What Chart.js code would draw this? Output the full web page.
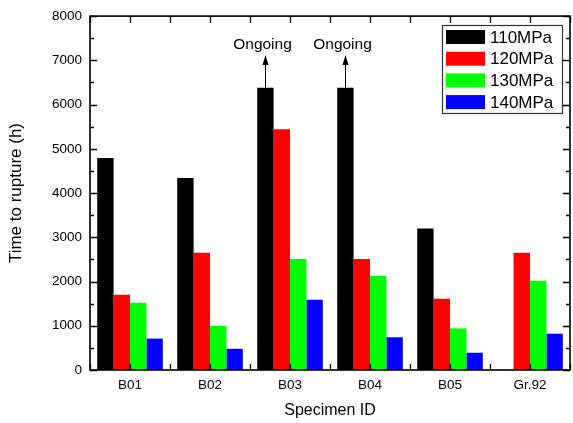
<!DOCTYPE html>
<html>
<head>
<meta charset="utf-8">
<script src="https://cdn.jsdelivr.net/npm/chart.js@4"></script>
<style>
  html, body { margin: 0; padding: 0; background: #fff; }
  #wrap { width: 573px; height: 423px; }
</style>
</head>
<body>
<div id="wrap"><canvas id="ruptureChart" width="573" height="423"></canvas></div>
<script>
// data
const specimens = ['B01', 'B02', 'B03', 'B04', 'B05', 'Gr.92'];
const stressLabels = ['110MPa', '120MPa', '130MPa', '140MPa'];
const mpa110 = [4790, 4340, 6380, 6380, 3200, null];
const mpa120 = [1700, 2650, 5440, 2510, 1610, 2650];
const mpa130 = [1520, 1000, 2510, 2130, 940, 2020];
const mpa140 = [710, 480, 1590, 740, 390, 820];
const ongoing = [false, false, true, true, false, false];
const yTicks = [0, 1000, 2000, 3000, 4000, 5000, 6000, 7000, 8000];

const barColors = ['#000000', '#ff0000', '#00ff00', '#0000ff'];
const FONT = 'Arial, "Liberation Sans", sans-serif';

// box, inward ticks, legend and "Ongoing" arrows
const framePlugin = {
    id: 'frame',
    afterDatasetsDraw(chart) {
        const ctx = chart.ctx;
        const a = chart.chartArea;
        const y = chart.scales.y;
        ctx.save();
        ctx.strokeStyle = '#000';
        ctx.lineWidth = 1.3;

        // y ticks (major + minor) on left and right
        for (let v = 0; v <= 8000; v += 500) {
            const py = Math.round(y.getPixelForValue(v)) + 0.5;
            const len = v % 1000 === 0 ? 7 : 4;
            ctx.beginPath();
            ctx.moveTo(a.left, py); ctx.lineTo(a.left + len, py);
            ctx.moveTo(a.right, py); ctx.lineTo(a.right - len, py);
            ctx.stroke();
        }
        // x ticks at centres and boundaries, top and bottom
        const step = (a.right - a.left) / specimens.length / 2;
        for (let i = 0; i <= specimens.length * 2; i++) {
            const px = Math.round(a.left + i * step) + 0.5;
            ctx.beginPath();
            ctx.moveTo(px, a.bottom); ctx.lineTo(px, a.bottom - 6);
            ctx.moveTo(px, a.top); ctx.lineTo(px, a.top + 7);
            ctx.stroke();
        }
        ctx.lineWidth = 1.6;
        ctx.strokeRect(a.left, a.top, a.right - a.left, a.bottom - a.top);

        // Ongoing arrows
        const meta = chart.getDatasetMeta(0);
        ctx.font = '15.5px ' + FONT;
        ctx.fillStyle = '#000';
        ctx.textAlign = 'center';
        ctx.textBaseline = 'alphabetic';
        ongoing.forEach((on, i) => {
            if (!on) return;
            const bar = meta.data[i];
            const bx = Math.round(bar.x) + 0.5;
            const tip = y.getPixelForValue(7120);
            ctx.lineWidth = 1;
            ctx.beginPath();
            ctx.moveTo(bx, bar.y); ctx.lineTo(bx, tip + 8);
            ctx.stroke();
            ctx.beginPath();
            ctx.moveTo(bx, tip);
            ctx.lineTo(bx - 3, tip + 10);
            ctx.lineTo(bx + 3, tip + 10);
            ctx.closePath();
            ctx.fill();
            ctx.fillText('Ongoing', bx - 3, tip - 6);
        });

        // legend box
        const lx = 442, ly = 25, lw = 120, lh = 88;
        ctx.fillStyle = '#fff';
        ctx.fillRect(lx, ly, lw, lh);
        ctx.strokeStyle = '#333';
        ctx.lineWidth = 1.2;
        ctx.strokeRect(lx + 0.5, ly + 0.5, lw, lh);
        ctx.font = '17px ' + FONT;
        ctx.textAlign = 'left';
        ctx.textBaseline = 'middle';
        chart.data.datasets.forEach((ds, k) => {
            const cy = ly + 12 + k * 21.7;
            ctx.fillStyle = ds.backgroundColor;
            ctx.fillRect(lx + 4, cy - 7, 39, 14);
            ctx.fillStyle = '#000';
            ctx.fillText(ds.label, lx + 48, cy + 1);
        });
        ctx.restore();
    }
};

const series = [mpa110, mpa120, mpa130, mpa140];

new Chart(document.getElementById('ruptureChart').getContext('2d'), {
    type: 'bar',
    data: {
        labels: specimens,
        datasets: series.map((d, k) => ({
            label: stressLabels[k],
            data: d,
            backgroundColor: barColors[k],
            borderWidth: 0,
            categoryPercentage: 0.82,
            barPercentage: 1
        }))
    },
    options: {
        responsive: false,
        animation: false,
        devicePixelRatio: 1,
        layout: { padding: { top: 14, right: 3, left: 0, bottom: 0 } },
        plugins: {
            legend: { display: false },
            tooltip: { enabled: false }
        },
        scales: {
            x: {
                grid: { display: false, drawTicks: false },
                border: { display: false },
                ticks: { color: '#000', font: { family: FONT, size: 13.5 }, padding: 7, maxRotation: 0 },
                title: {
                    display: true,
                    text: 'Specimen ID',
                    color: '#000',
                    font: { family: FONT, size: 16 },
                    padding: { top: 0, bottom: 3 }
                },
                afterFit(s) { s.height = 53; }
            },
            y: {
                min: 0,
                max: 8000,
                afterBuildTicks(s) { s.ticks = yTicks.map(v => ({ value: v })); },
                grid: { display: false, drawTicks: false },
                border: { display: false },
                ticks: {
                    color: '#000',
                    font: { family: FONT, size: 13.5 },
                    padding: 8,
                    callback: v => String(v)
                },
                title: {
                    display: true,
                    text: 'Time to rupture (h)',
                    color: '#000',
                    font: { family: FONT, size: 17 },
                    padding: { top: 6, bottom: 0 }
                },
                afterFit(s) { s.width = 90; }
            }
        }
    },
    plugins: [framePlugin]
});
</script>
</body>
</html>
